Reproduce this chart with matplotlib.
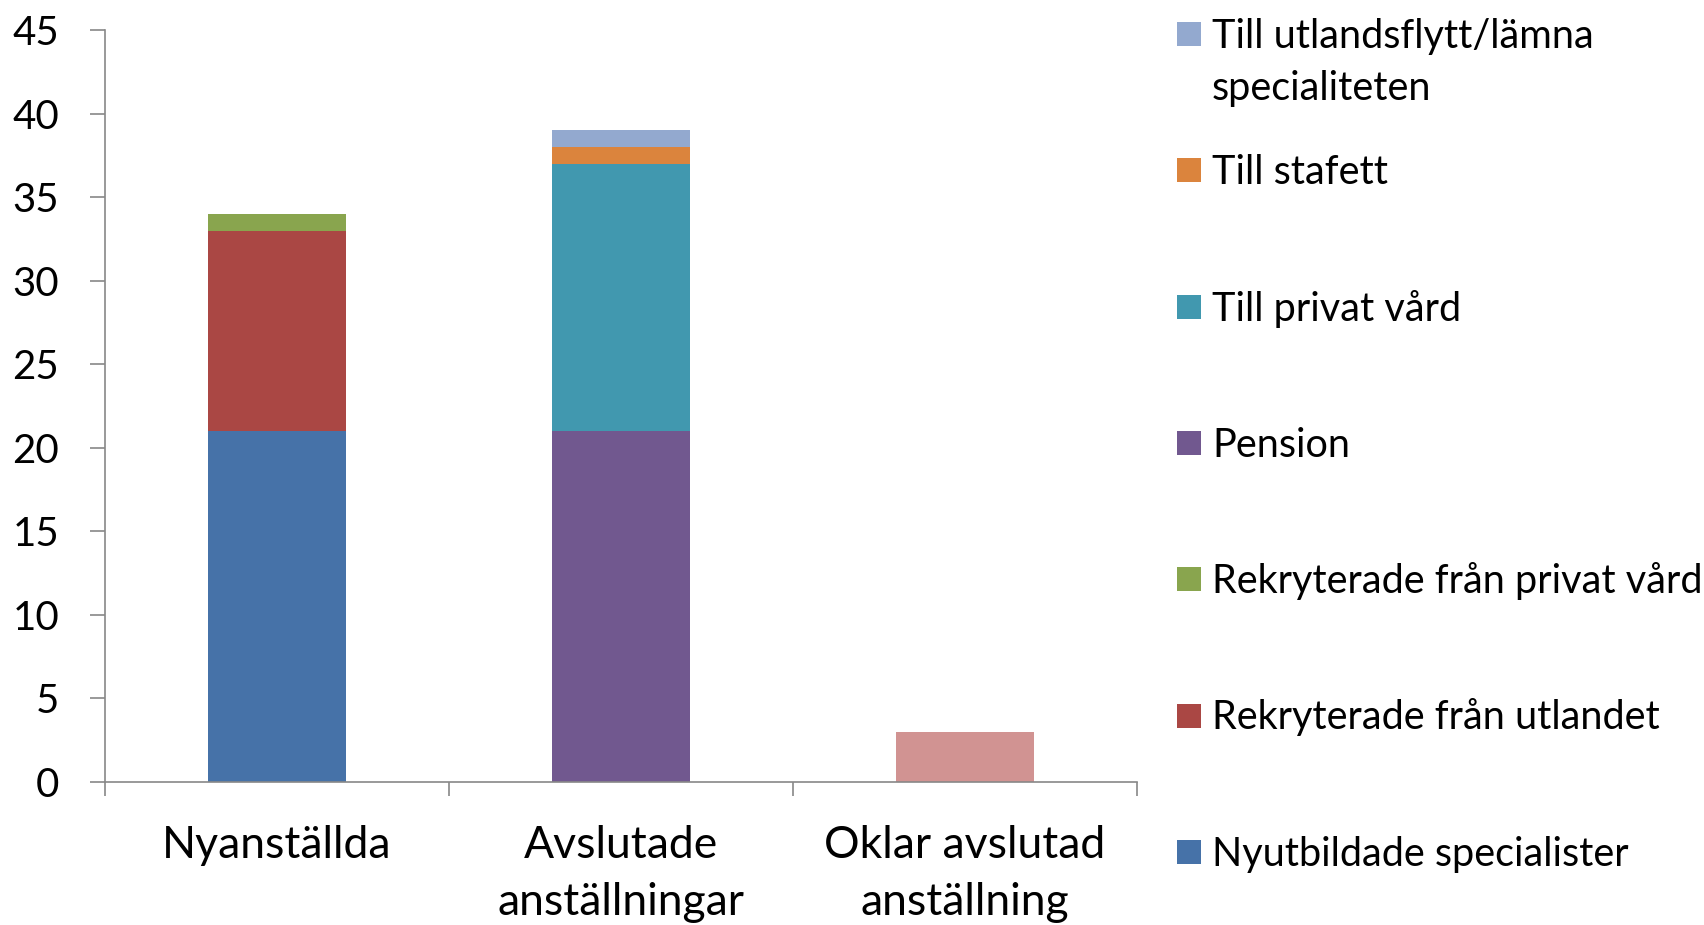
import matplotlib
matplotlib.use("Agg")
import matplotlib.pyplot as plt
from matplotlib.patches import Rectangle
import numpy as np

plt.rcParams['font.family'] = ['Lato', 'DejaVu Sans']

categories = ["Nyanställda", "Avslutade\nanställningar", "Oklar avslutad\nanställning"]

series_names = [
    "Nyutbildade specialister",
    "Rekryterade från utlandet",
    "Rekryterade från privat vård",
    "Pension",
    "Till privat vård",
    "Till stafett",
    "Till utlandsflytt/lämna\nspecialiteten",
    "Oklar",
]
series_values = [
    [21, 0, 0],
    [12, 0, 0],
    [1, 0, 0],
    [0, 21, 0],
    [0, 16, 0],
    [0, 1, 0],
    [0, 1, 0],
    [0, 0, 3],
]
series_colors = ["#4672A8", "#AA4744", "#89A54E", "#71588F",
                 "#4198AF", "#DB843D", "#93A9CF", "#D19392"]
in_legend = [True, True, True, True, True, True, True, False]

W, H = 1704, 925
fig = plt.figure(figsize=(W / 100, H / 100), dpi=100)
ax = fig.add_axes([105 / W, 1 - 782 / H, (1137 - 105) / W, (782 - 30) / H])

x = np.arange(len(categories))
bottom = np.zeros(len(categories))
for name, vals, col in zip(series_names, series_values, series_colors):
    vals = np.array(vals, dtype=float)
    ax.bar(x, vals, width=0.4, bottom=bottom, color=col, linewidth=0)
    bottom += vals

ax.set_xlim(-0.5, len(categories) - 0.5)
ax.set_ylim(0, 45)
ax.set_yticks(np.arange(0, 46, 5))
ax.tick_params(axis='y', length=11, width=1.2, color='#888888', labelsize=29, pad=22)

ax.set_xticks(np.arange(-0.5, len(categories), 1.0))
ax.set_xticklabels([])
ax.tick_params(axis='x', which='major', length=10, width=1.2, color='#888888')
ax.set_xticks(x, minor=True)
ax.set_xticklabels(categories, minor=True, fontsize=32, linespacing=1.48)
ax.tick_params(axis='x', which='minor', length=0, pad=31)

for s in ['top', 'right']:
    ax.spines[s].set_visible(False)
for s in ['left', 'bottom']:
    ax.spines[s].set_color('#888888')
    ax.spines[s].set_linewidth(1.2)

# legend (reverse order, excluding the unlabeled series)
leg_items = [(n, c) for n, c, l in zip(series_names, series_colors, in_legend) if l][::-1]
y0 = 34
step = 136.3
line_step = 52
for i, (name, col) in enumerate(leg_items):
    yc = y0 + i * step
    fig.add_artist(Rectangle((1177 / W, 1 - (yc + 12) / H), 24 / W, 24 / H,
                             transform=fig.transFigure, color=col, linewidth=0))
    for k, line in enumerate(name.split("\n")):
        fig.text(1212 / W, 1 - (yc + 14 + k * line_step) / H, line, fontsize=28.5,
                 va='baseline', ha='left')

fig.savefig("out.png", dpi=100)
